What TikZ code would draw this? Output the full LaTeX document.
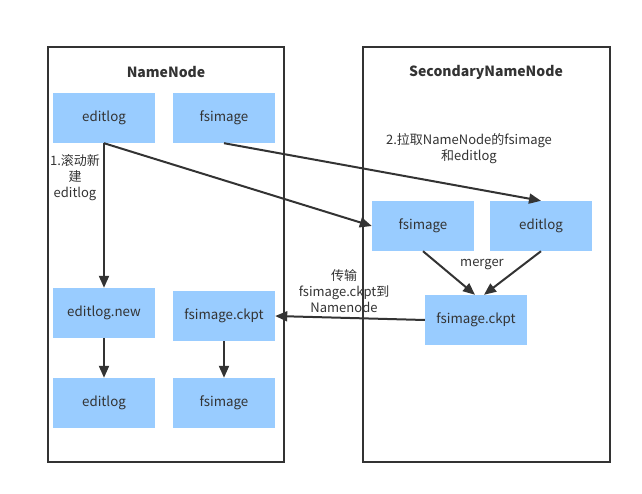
\documentclass[tikz,border=0pt]{standalone}
\usepackage{fontspec}
\setmainfont{Noto Sans CJK SC}
\usetikzlibrary{arrows.meta}
\definecolor{boxblue}{HTML}{99CCFF}
\definecolor{ink}{HTML}{333333}
\tikzset{
  blk/.style={fill=boxblue, draw=none, minimum width=102pt, minimum height=50pt, inner sep=0pt, text=ink, font=\fontsize{13.3}{15}\selectfont},
  frame/.style={draw=ink, line width=2pt},
  conn/.style={draw=ink, line width=2pt, -{Triangle[length=12pt,width=10pt]}},
  lbl/.style={text=ink, align=center, font=\fontsize{13}{16}\selectfont, inner sep=0pt},
  ttl/.style={text=ink, font=\fontsize{14}{16}\selectfont\bfseries, inner sep=0pt}
}
\begin{document}
\begin{tikzpicture}[x=1pt,y=-1pt]
\useasboundingbox (0,0) rectangle (642,494);
\draw[frame] (48,47) rectangle (284,462);
\draw[frame] (363,47) rectangle (610,462);
\node[ttl] (nntitle) at (166,72) {NameNode};
\node[ttl] (sntitle) at (486,72) {SecondaryNameNode};
% left boxes
\node[blk] (el1) at (104,118) {editlog};
\node[blk] (fs1) at (224,118) {fsimage};
\node[blk] (eln) at (104,313) {editlog.new};
\node[blk] (ck1) at (224,316) {fsimage.ckpt};
\node[blk] (el2) at (104,403) {editlog};
\node[blk] (fs2) at (224,403) {fsimage};
% right boxes
\node[blk] (fs3) at (423,226) {fsimage};
\node[blk] (el3) at (541,226) {editlog};
\node[blk] (ck2) at (476,320) {fsimage.ckpt};
% labels
\node[lbl] (l1) at (75,178) {1.滚动新\\建\\editlog};
\node[lbl] (l2) at (469,149) {2.拉取NameNode的fsimage\\和editlog};
\node[lbl] (l3) at (482,265) {merger};
\node[lbl] (l4) at (344,291) {传输\\fsimage.ckpt到\\Namenode};
% connectors
\coordinate (elb) at (el1.south);
\draw[conn] (elb) -- (eln.north);
\draw[conn] (elb) -- (fs3.west);
\draw[conn] (fs1.south) -- (el3.north);
\draw[conn] (fs3.south) -- ([xshift=-1pt]ck2.north);
\draw[conn] (el3.south) -- ([xshift=8pt]ck2.north);
\draw[conn] (ck2.west) -- (ck1.east);
\draw[conn] (eln.south) -- (el2.north);
\draw[conn] (ck1.south) -- (fs2.north);
\end{tikzpicture}
\end{document}
